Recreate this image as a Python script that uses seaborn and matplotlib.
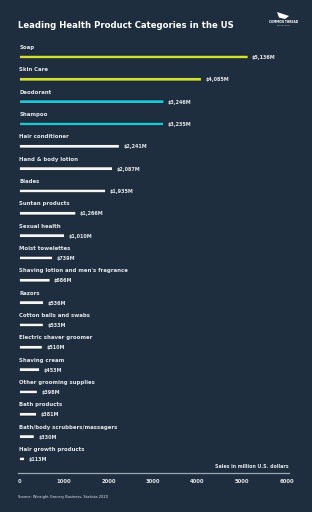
import matplotlib
matplotlib.use("Agg")
import matplotlib.pyplot as plt
import matplotlib.patches as mpatches
import seaborn as sns
import pandas as pd

categories = ["Soap", "Skin Care", "Deodorant", "Shampoo", "Hair conditioner",
              "Hand & body lotion", "Blades", "Suntan products", "Sexual health",
              "Moist towelettes", "Shaving lotion and men's fragrance", "Razors",
              "Cotton balls and swabs", "Electric shaver groomer", "Shaving cream",
              "Other grooming supplies", "Bath products", "Bath/body scrubbers/massagers",
              "Hair growth products"]
values = [5136, 4085, 3246, 3235, 2241, 2087, 1935, 1266, 1010, 739, 686, 536,
          533, 510, 453, 398, 381, 330, 113]
xticks = [0, 1000, 2000, 3000, 4000, 5000, 6000]

BG = "#1e2e3e"
LIME = "#cfe03a"
CYAN = "#1fc6d6"
WHITE = "#f4f6f8"
TXT = "#e3e7eb"
colors = [LIME, LIME, CYAN, CYAN] + [WHITE] * (len(categories) - 4)

sns.set_theme(style="white")
plt.rcParams["font.family"] = ["DejaVu Sans"]

fig = plt.figure(figsize=(3.12, 5.12), dpi=100, facecolor=BG)
ax = fig.add_axes([17.7 / 312, 1 - 473 / 512, (289.2 - 17.7) / 312, (473 - 40) / 512])
ax.set_facecolor(BG)

df = pd.DataFrame({"cat": categories, "val": values})
sns.barplot(data=df, x="val", y="cat", hue="cat", palette=colors, legend=False,
            orient="h", width=0.155, ax=ax, edgecolor="#0c1620", linewidth=0.5,
            saturation=1)
for p in ax.patches:
    p.set_snap(False)

ax.set_xlim(-40, 6060)
ax.set_ylim(18.63, -0.76)
ax.set_yticks([])
ax.set_ylabel("")
ax.set_xlabel("")
ax.set_xticks(xticks)
ax.set_xticklabels([str(t) for t in xticks], color=TXT, fontsize=3.8, fontweight="bold")
ax.tick_params(axis="x", length=0, pad=4.5)
for s in ["top", "right", "left"]:
    ax.spines[s].set_visible(False)
ax.spines["bottom"].set_color("#9aa6b2")
ax.spines["bottom"].set_linewidth(0.9)

for i, (c, v) in enumerate(zip(categories, values)):
    ax.text(0, i - 0.42, c, color=TXT, fontsize=3.9, fontweight="bold",
            ha="left", va="center")
    ax.text(v + 90, i + 0.02, f"${v:,}M", color=TXT, fontsize=3.5,
            fontweight="bold", ha="left", va="center")

fig.text(18 / 312, 1 - 25 / 512, "Leading Health Product Categories in the US",
         color="white", fontsize=6.1, fontweight="bold", ha="left", va="center")
fig.text(289 / 312, 1 - 466 / 512, "Sales in million U.S. dollars", color=TXT,
         fontsize=3.4, fontweight="bold", ha="right", va="center")
fig.text(18 / 312, 1 - 497 / 512, "Source: Winsight Grocery Business, Statista 2020",
         color=TXT, fontsize=2.6, ha="left", va="center")

# logo
flag = mpatches.Polygon([[277 / 312, 1 - 12 / 512], [283 / 312, 1 - 14 / 512],
                         [289 / 312, 1 - 16 / 512], [285 / 312, 1 - 19 / 512],
                         [279 / 312, 1 - 17.5 / 512]], closed=True,
                        transform=fig.transFigure, facecolor="white", edgecolor="none")
fig.patches.append(flag)
fig.text(284 / 312, 1 - 22 / 512, "COMMON THREAD", color="white", fontsize=2.1,
         ha="center", va="center", fontweight="bold")
fig.text(284 / 312, 1 - 25.5 / 512, "COLLECTIVE", color="#c8ced4", fontsize=1.6,
         ha="center", va="center")

fig.savefig("out.png", dpi=100, facecolor=BG)
